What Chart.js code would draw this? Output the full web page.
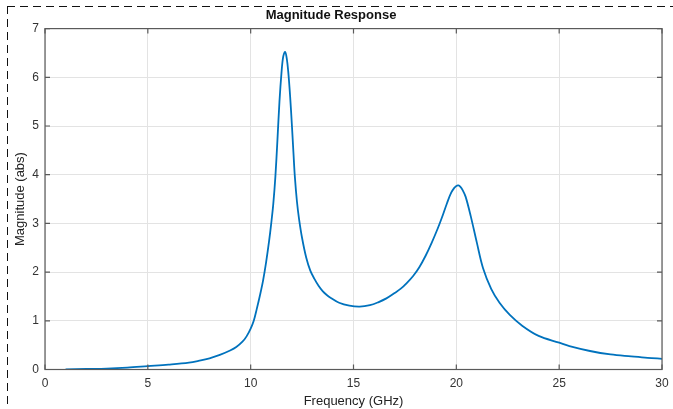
<!DOCTYPE html>
<html>
<head>
<meta charset="utf-8">
<script src="https://cdn.jsdelivr.net/npm/chart.js@4/dist/chart.umd.min.js"></script>
<style>
  html, body { margin: 0; padding: 0; background: #fff; }
  #wrap { position: relative; width: 673px; height: 409px; overflow: hidden; }
  canvas { position: absolute; left: 0; top: 0; }
  #dashTop { position: absolute; left: 7px; right: 0; top: 6px; height: 1px;
    background: repeating-linear-gradient(to right, #111 0 8px, transparent 8px 13px); }
  #dashLeft { position: absolute; left: 7px; top: 6px; bottom: 0; width: 1px;
    background: repeating-linear-gradient(to bottom, #111 0 8px, transparent 8px 13px); }
</style>
</head>
<body>
<div id="wrap">
  <canvas id="c" width="673" height="409"></canvas>
  <div id="dashTop"></div>
  <div id="dashLeft"></div>
</div>
<script>
// ---- data ----
const titleText = "Magnitude Response";
const xLabel = "Frequency (GHz)";
const yLabel = "Magnitude (abs)";
const xTicks = [0, 5, 10, 15, 20, 25, 30];
const yTicks = [0, 1, 2, 3, 4, 5, 6, 7];

const frequency = [
  1.0, 2.0, 3.0, 4.0, 5.0, 6.0, 7.0, 7.5, 8.0, 8.5, 9.0, 9.3, 9.6, 9.8,
  10.0, 10.15, 10.3, 10.45, 10.6, 10.75, 10.9, 11.0, 11.1, 11.2, 11.3, 11.4, 11.5, 11.58,
  11.67, 11.75, 11.83, 11.92, 12.0, 12.08, 12.15, 12.25, 12.35, 12.5, 12.7, 12.9,
  13.1, 13.3, 13.5, 13.7, 13.9, 14.3, 14.8, 15.3, 15.8, 16.2, 16.6, 17.0, 17.3, 17.6, 17.9,
  18.2, 18.5, 18.8, 19.1, 19.3, 19.55, 19.75, 19.9, 20.0, 20.1, 20.2, 20.3, 20.45, 20.7,
  21.0, 21.3, 21.7, 22.1, 22.6, 23.2, 24.0, 25.0, 25.5, 26.5, 27.5, 28.5, 29.3, 30.0
];
const magnitude = [
  0.00, 0.01, 0.02, 0.04, 0.07, 0.10, 0.14, 0.18, 0.23, 0.30, 0.39, 0.46, 0.57, 0.68,
  0.84, 1.00, 1.25, 1.52, 1.82, 2.20, 2.65, 3.00, 3.40, 3.95, 4.70, 5.50, 6.10, 6.42,
  6.52, 6.40, 6.10, 5.60, 5.05, 4.45, 3.95, 3.45, 3.10, 2.70, 2.30, 2.03,
  1.86, 1.72, 1.61, 1.53, 1.47, 1.37, 1.31, 1.29, 1.32, 1.38, 1.46, 1.57, 1.66, 1.78, 1.92,
  2.10, 2.33, 2.60, 2.90, 3.12, 3.42, 3.63, 3.73, 3.77, 3.78, 3.75, 3.69, 3.55, 3.15,
  2.60, 2.08, 1.65, 1.37, 1.12, 0.90, 0.69, 0.55, 0.48, 0.38, 0.31, 0.27, 0.24, 0.22
];

const points = frequency.map((f, i) => ({ x: f, y: magnitude[i] }));

const FONT = "'Liberation Sans', Arial, sans-serif";

const boxPlugin = {
  id: 'matlabBox',
  afterDraw(chart) {
    const { ctx, chartArea: a, scales } = chart;
    ctx.save();
    ctx.strokeStyle = '#5a5a5a';
    ctx.lineWidth = 1.2;
    ctx.strokeRect(a.left, a.top, a.right - a.left, a.bottom - a.top);
    const tl = 5;
    ctx.beginPath();
    xTicks.forEach(v => {
      const p = scales.x.getPixelForValue(v);
      ctx.moveTo(p, a.bottom); ctx.lineTo(p, a.bottom - tl);
      ctx.moveTo(p, a.top); ctx.lineTo(p, a.top + tl);
    });
    yTicks.forEach(v => {
      const p = scales.y.getPixelForValue(v);
      ctx.moveTo(a.left, p); ctx.lineTo(a.left + tl, p);
      ctx.moveTo(a.right, p); ctx.lineTo(a.right - tl, p);
    });
    ctx.stroke();
    ctx.restore();
  }
};

const bgPlugin = {
  id: 'bg',
  beforeDraw(chart) {
    const ctx = chart.ctx;
    ctx.save();
    ctx.fillStyle = '#fff';
    ctx.fillRect(0, 0, chart.width, chart.height);
    ctx.restore();
  }
};

new Chart(document.getElementById('c'), {
  type: 'line',
  data: {
    datasets: [{
      data: points,
      borderColor: '#0072BD',
      borderWidth: 1.8,
      pointRadius: 0,
      fill: false,
      tension: 0.35
    }]
  },
  options: {
    responsive: false,
    animation: false,
    devicePixelRatio: 1,
    layout: { padding: { left: 0, right: 11, top: 0, bottom: 0 } },
    plugins: {
      legend: { display: false },
      tooltip: { enabled: false },
      title: {
        display: true,
        text: titleText,
        color: '#111',
        font: { family: FONT, size: 13, weight: 'bold' },
        padding: { top: 8, bottom: 5 }
      }
    },
    scales: {
      x: {
        type: 'linear',
        min: 0, max: 30,
        afterBuildTicks(scale) { scale.ticks = xTicks.map(v => ({ value: v })); },
        afterFit(scale) { scale.height = 39.5; scale.paddingLeft = 0; scale.paddingRight = 0; },
        grid: { color: '#e3e3e3', lineWidth: 1, drawTicks: false },
        border: { display: false },
        ticks: { color: '#333', font: { family: FONT, size: 12 }, padding: 7, maxRotation: 0 },
        title: { display: true, text: xLabel, color: '#222', font: { family: FONT, size: 13 }, padding: { top: 0, bottom: 0 } }
      },
      y: {
        type: 'linear',
        min: 0, max: 7,
        afterBuildTicks(scale) { scale.ticks = yTicks.map(v => ({ value: v })); },
        afterFit(scale) { scale.width = 45; scale.paddingTop = 0; scale.paddingBottom = 0; },
        grid: { color: '#e3e3e3', lineWidth: 1, drawTicks: false },
        border: { display: false },
        ticks: { color: '#333', font: { family: FONT, size: 12 }, padding: 6 },
        title: { display: true, text: yLabel, color: '#222', font: { family: FONT, size: 13 }, padding: { top: 13, bottom: 0 } }
      }
    }
  },
  plugins: [bgPlugin, boxPlugin]
});
</script>
</body>
</html>
